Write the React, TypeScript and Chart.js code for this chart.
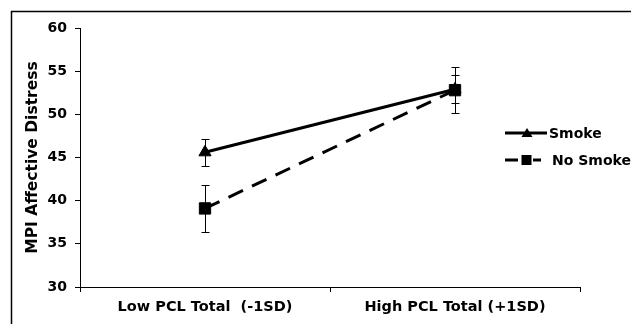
import React, { useEffect, useRef } from 'react';
import { Chart, registerables } from 'chart.js';

Chart.register(...registerables);

const categories = ['Low PCL Total  (-1SD)', 'High PCL Total (+1SD)'];
const seriesLabels = ['Smoke', 'No Smoke'];
const smokeValues = [45.6, 52.9];
const smokeErrors = [1.6, 1.6];
const noSmokeValues = [39.1, 52.8];
const noSmokeErrors = [2.7, 2.7];
const yTicks = [30, 35, 40, 45, 50, 55, 60];
const yTitle = 'MPI Affective Distress';

const FONT = "'DejaVu Sans', 'Liberation Sans', Arial, sans-serif";

const framePlugin = {
  id: 'frame',
  beforeDraw(chart: any) {
    const ctx = chart.ctx;
    ctx.save();
    ctx.strokeStyle = '#000';
    ctx.lineWidth = 1.5;
    ctx.beginPath();
    ctx.moveTo(11.5, chart.height);
    ctx.lineTo(11.5, 11.5);
    ctx.lineTo(chart.width, 11.5);
    ctx.stroke();
    ctx.restore();
  },
};

const errorBarPlugin = {
  id: 'errorBars',
  beforeDatasetsDraw(chart: any) {
    const ctx = chart.ctx;
    const yScale = chart.scales.y;
    ctx.save();
    ctx.strokeStyle = '#000';
    ctx.lineWidth = 1;
    chart.data.datasets.forEach((ds: any, i: number) => {
      const meta = chart.getDatasetMeta(i);
      meta.data.forEach((pt: any, j: number) => {
        const v = ds.data[j];
        const e = ds.errors[j];
        const x = Math.round(pt.x) + 0.5;
        const yTop = Math.round(yScale.getPixelForValue(v + e)) + 0.5;
        const yBot = Math.round(yScale.getPixelForValue(v - e)) + 0.5;
        ctx.beginPath();
        ctx.moveTo(x, yTop);
        ctx.lineTo(x, yBot);
        ctx.moveTo(x - 4, yTop);
        ctx.lineTo(x + 4, yTop);
        ctx.moveTo(x - 4, yBot);
        ctx.lineTo(x + 4, yBot);
        ctx.stroke();
      });
    });
    ctx.restore();
  },
};

const legendPlugin = {
  id: 'customLegend',
  afterDraw(chart: any) {
    const ctx = chart.ctx;
    const ds = chart.data.datasets;
    ctx.save();
    ctx.fillStyle = '#000';
    ctx.strokeStyle = '#000';
    ctx.font = `bold 14px ${FONT}`;
    ctx.textBaseline = 'middle';
    ctx.textAlign = 'left';

    // Smoke entry
    let y = 133;
    ctx.lineWidth = 3;
    ctx.setLineDash([]);
    ctx.beginPath();
    ctx.moveTo(505, y);
    ctx.lineTo(547, y);
    ctx.stroke();
    ctx.beginPath();
    ctx.moveTo(527, y - 5);
    ctx.lineTo(532.5, y + 4);
    ctx.lineTo(521.5, y + 4);
    ctx.closePath();
    ctx.fill();
    ctx.fillText(ds[0].label, 549, y + 1);

    // No Smoke entry
    y = 160;
    ctx.setLineDash([13, 15]);
    ctx.beginPath();
    ctx.moveTo(505, y);
    ctx.lineTo(541, y);
    ctx.stroke();
    ctx.setLineDash([]);
    ctx.fillRect(521.5, y - 5, 10, 10);
    ctx.fillText(ds[1].label, 552, y + 1);
    ctx.restore();
  },
};

export default function App() {
  const canvasRef = useRef<HTMLCanvasElement>(null);

  useEffect(() => {
    if (!canvasRef.current) return;
    const chart = new Chart(canvasRef.current, {
      type: 'line',
      data: {
        labels: categories,
        datasets: [
          {
            label: seriesLabels[0],
            data: smokeValues,
            errors: smokeErrors,
            borderColor: '#000',
            backgroundColor: '#000',
            borderWidth: 3,
            pointStyle: 'triangle',
            pointRadius: 7,
            pointBorderWidth: 1,
            pointBackgroundColor: '#000',
            pointBorderColor: '#000',
            tension: 0,
            order: 1,
          } as any,
          {
            label: seriesLabels[1],
            data: noSmokeValues,
            errors: noSmokeErrors,
            borderColor: '#000',
            backgroundColor: '#000',
            borderWidth: 3,
            borderDash: [16, 10],
            pointStyle: 'rect',
            pointRadius: 8,
            pointBorderWidth: 1,
            pointBackgroundColor: '#000',
            pointBorderColor: '#000',
            tension: 0,
            order: 0,
          } as any,
        ],
      },
      options: {
        responsive: false,
        animation: false,
        layout: { padding: { top: 28, right: 51, bottom: 0, left: 0 } },
        plugins: {
          legend: { display: false },
          tooltip: { enabled: false },
        },
        scales: {
          x: {
            type: 'category',
            offset: true,
            grid: {
              offset: true,
              drawOnChartArea: false,
              drawTicks: true,
              tickLength: 5,
              color: '#000',
              lineWidth: 1,
            },
            border: { display: true, color: '#000', width: 1 },
            ticks: {
              color: '#000',
              font: { family: FONT, weight: 'bold', size: 14.5 },
              padding: 7,
              maxRotation: 0,
              autoSkip: false,
            },
            afterFit: (s: any) => {
              s.height = 37;
            },
          },
          y: {
            min: 30,
            max: 60,
            afterBuildTicks: (s: any) => {
              s.ticks = yTicks.map((v) => ({ value: v }));
            },
            grid: {
              drawOnChartArea: false,
              drawTicks: true,
              tickLength: 5,
              color: '#000',
              lineWidth: 1,
            },
            border: { display: true, color: '#000', width: 1 },
            ticks: {
              color: '#000',
              font: { family: FONT, weight: 'bold', size: 14 },
              padding: 8,
            },
            title: {
              display: true,
              text: yTitle,
              color: '#000',
              font: { family: FONT, weight: 'bold', size: 15.5 },
              padding: { top: 24, bottom: 0 },
            },
            afterFit: (s: any) => {
              s.width = 80;
            },
          },
        },
      } as any,
      plugins: [framePlugin, errorBarPlugin, legendPlugin],
    });
    return () => chart.destroy();
  }, []);

  return (
    <div style={{ position: 'fixed', left: 0, top: 0, width: 631, height: 324, background: '#fff' }}>
      <canvas ref={canvasRef} width={631} height={324} style={{ display: 'block' }} />
    </div>
  );
}
